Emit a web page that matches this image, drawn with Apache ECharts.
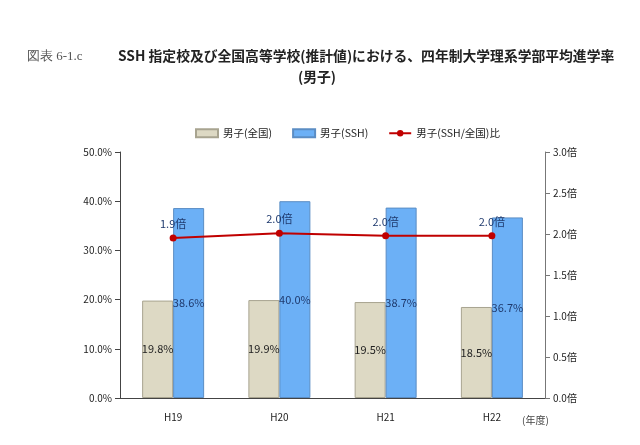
<!DOCTYPE html>
<html><head><meta charset="utf-8">
<script src="https://cdn.jsdelivr.net/npm/echarts@6/dist/echarts.min.js"></script>
<style>html,body{margin:0;padding:0;background:#fff}#c{width:640px;height:445px}</style>
</head><body><div id="c"></div>
<script>
const categories = ['H19','H20','H21','H22'];
const nationalValues = [19.8, 19.9, 19.5, 18.5];
const sshValues = [38.6, 40.0, 38.7, 36.7];
const ratioValues = [1.95, 2.01, 1.98, 1.98];
const leftTicks = [0, 10, 20, 30, 40, 50];
const rightTicks = [0, 0.5, 1.0, 1.5, 2.0, 2.5, 3.0];
const seriesNames = ['男子(全国)', '男子(SSH)', '男子(SSH/全国)比'];

const FONT = '"Noto Sans CJK JP", sans-serif';
const chart = echarts.init(document.getElementById('c'));
chart.setOption({
  animation: false,
  textStyle: {fontFamily: FONT},
  graphic: [
    {type: 'text', left: 27, top: 50, style: {text: '図表 6-1.c', font: '13px "Liberation Serif", serif', fill: '#555'}},
    {type: 'text', left: 118, top: 49, style: {text: 'SSH 指定校及び全国高等学校(推計値)における、四年制大学理系学部平均進学率', font: 'bold 13.8px ' + FONT, fill: '#222'}},
    {type: 'text', left: 298, top: 70, style: {text: '(男子)', font: 'bold 13.8px ' + FONT, fill: '#222'}},
    {type: 'text', left: 522, top: 415, style: {text: '(年度)', font: '10px ' + FONT, fill: '#444'}}
  ],
  legend: {
    top: 123, left: 190,
    itemWidth: 22, itemHeight: 8, itemGap: 20,
    textStyle: {fontSize: 10.5, color: '#222', fontFamily: FONT},
    data: [
      {name: seriesNames[0], icon: 'rect'},
      {name: seriesNames[1], icon: 'rect'},
      {name: seriesNames[2]}
    ]
  },
  grid: {left: 120, right: 95, top: 152, bottom: 47},
  xAxis: {
    type: 'category', data: categories,
    axisLine: {lineStyle: {color: '#444', width: 1}},
    axisTick: {show: false},
    axisLabel: {fontSize: 10, color: '#222', margin: 14}
  },
  yAxis: [
    {
      type: 'value', min: 0, max: 50, interval: 10,
      axisLine: {show: true, lineStyle: {color: '#444'}},
      axisTick: {show: true, length: 5, lineStyle: {color: '#444'}},
      splitLine: {show: false},
      axisLabel: {fontSize: 10, color: '#222', formatter: v => v.toFixed(1) + '%'}
    },
    {
      type: 'value', min: 0, max: 3, interval: 0.5,
      axisLine: {show: true, lineStyle: {color: '#777'}},
      axisTick: {show: true, length: 5, lineStyle: {color: '#777'}},
      splitLine: {show: false},
      axisLabel: {fontSize: 10, color: '#222', formatter: v => v.toFixed(1) + '倍'}
    }
  ],
  series: [
    {
      name: seriesNames[0], type: 'bar', data: nationalValues,
      barWidth: 31, barGap: '0%',
      itemStyle: {color: '#ddd9c4', borderColor: '#a8a490', borderWidth: 1},
      label: {show: true, position: 'inside', formatter: p => p.value.toFixed(1) + '%', fontSize: 11, color: '#222'}
    },
    {
      name: seriesNames[1], type: 'bar', data: sshValues,
      barWidth: 31, barGap: '0%',
      itemStyle: {color: '#6cb0f6', borderColor: '#5b8dc4', borderWidth: 1},
      label: {show: true, position: 'inside', formatter: p => p.value.toFixed(1) + '%', fontSize: 11, color: '#1f3a6e'}
    },
    {
      name: seriesNames[2], type: 'line', yAxisIndex: 1, data: ratioValues,
      symbol: 'circle', symbolSize: 7,
      lineStyle: {color: '#c00000', width: 2},
      itemStyle: {color: '#c00000'},
      label: {show: true, position: 'top', distance: 5, formatter: p => p.value.toFixed(1) + '倍', fontSize: 11, color: '#1f3a6e'},
      z: 5
    }
  ]
});
</script></body></html>
